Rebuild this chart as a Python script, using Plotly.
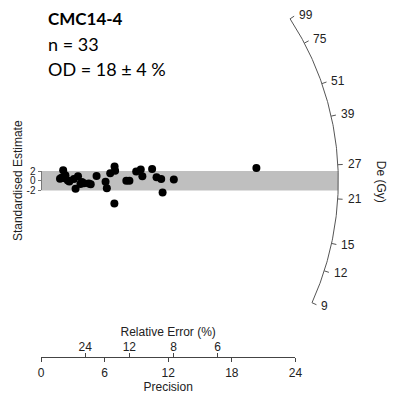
import numpy as np
import plotly.graph_objects as go

# ---- data ----
precision = [1.93, 2.09, 2.25, 2.53, 2.30, 1.79, 2.67, 3.10, 3.26, 3.49, 3.72,
             3.86, 4.05, 4.51, 4.69, 5.24, 6.09, 6.21, 6.53, 6.94, 6.99, 6.92,
             8.05, 8.34, 8.98, 9.41, 9.56, 10.48, 10.90, 11.34, 11.47, 12.53, 20.32]
std_est = [0.64, 2.14, 0.54, 0.04, 1.14, 0.44, -0.16, 0.34, -1.62, 0.94, -0.66,
           -0.26, -0.52, -0.56, -0.72, 1.00, -0.20, -1.52, 1.54, 2.94, 2.04, -4.66,
           0.00, 0.00, 1.90, 2.30, 0.94, 2.40, 0.70, 0.38, -2.40, 0.28, 2.60]
de_ticks = [9, 12, 15, 21, 27, 39, 51, 75, 99]
central_de = 24.0
prec_ticks = [0, 6, 12, 18, 24]
rel_err_ticks = [24, 12, 8, 6]
std_ticks = [-2, 0, 2]
title_lines = ["<b>CMC14-4</b>", "n = 33", "OD = 18 ± 4 %"]

# ---- geometry ----
W, H = 395, 403
px0, py0 = 39.0, 180.7          # pixel of origin (precision 0, std 0)
ax_px = 10.875                  # px per precision unit
ay_px = 5.0                     # px per standardised unit
R = 305.0                       # arc radius in px

xr = [-px0 / ax_px, (W - px0) / ax_px]
yr = [(py0 - H) / ay_px, py0 / ay_px]

def ang(z):
    return np.arctan((ay_px / ax_px) * (np.log(z) - np.log(central_de)))

def pol(r, th):
    return r * np.cos(th) / ax_px, r * np.sin(th) / ay_px

fig = go.Figure()

# band +-2
th_b = np.arcsin(2 * ay_px / R)
tb = np.linspace(-th_b, th_b, 10)
bx, by = pol(R, tb)
band_x = [0] + list(bx) + [0]
band_y = [-2] + list(by) + [2]
fig.add_trace(go.Scatter(x=band_x, y=band_y, fill="toself", fillcolor="#bfbfbf",
                         line=dict(width=0), mode="lines", hoverinfo="skip"))

# arc
ta = np.linspace(ang(min(de_ticks)), ang(max(de_ticks)), 200)
axx, ayy = pol(R, ta)
fig.add_trace(go.Scatter(x=axx, y=ayy, mode="lines", line=dict(color="#555555", width=1),
                         hoverinfo="skip"))
# arc ticks
tx, ty = [], []
for z in de_ticks:
    a = ang(z)
    x1, y1 = pol(R, a)
    x2, y2 = pol(R + 5, a)
    tx += [x1, x2, None]
    ty += [y1, y2, None]
fig.add_trace(go.Scatter(x=tx, y=ty, mode="lines", line=dict(color="#555555", width=1),
                         hoverinfo="skip"))

# points
fig.add_trace(go.Scatter(x=precision, y=std_est, mode="markers",
                         marker=dict(color="black", size=8), hoverinfo="skip"))

# dummy traces for the visible axes
fig.add_trace(go.Scatter(x=[None], y=[None], xaxis="x2", yaxis="y2", showlegend=False))
fig.add_trace(go.Scatter(x=[None], y=[None], xaxis="x3", yaxis="y2", showlegend=False))

ann = []
for z in de_ticks:
    lx, ly = pol(R + 8, ang(z))
    ann.append(dict(x=lx, y=ly, xref="x", yref="y", text=str(z), showarrow=False,
                    xanchor="left", yanchor="middle",
                    font=dict(family="Liberation Sans, Arial", size=12, color="#222")))
ann.append(dict(x=388 / W, y=1 - 182 / H, xref="paper", yref="paper", text="De (Gy)",
                textangle=90, showarrow=False, xanchor="center", yanchor="middle",
                font=dict(family="Liberation Sans, Arial", size=12, color="#222")))
for i, (t, yc) in enumerate(zip(title_lines, [14, 40, 66])):
    ann.append(dict(x=44 / W, y=1 - yc / H, xref="paper", yref="paper", text=t,
                    showarrow=False, xanchor="left", yanchor="middle",
                    font=dict(family="Lato", size=18 if i else 17, color="black")))

font_ax = dict(family="Liberation Sans, Arial", size=12, color="#222")
dom_x = [px0 / W, 300 / W]
pos_x = 1 - 362.0 / H

fig.update_layout(
    width=W, height=H, margin=dict(l=0, r=0, t=0, b=0),
    paper_bgcolor="white", plot_bgcolor="rgba(0,0,0,0)", showlegend=False,
    xaxis=dict(range=xr, visible=False, domain=[0, 1]),
    yaxis=dict(range=yr, visible=False, domain=[0, 1]),
    xaxis2=dict(domain=dom_x, range=[0, 24], anchor="free", position=pos_x,
                showline=True, linecolor="#444", linewidth=1, ticks="outside",
                ticklen=4, tickcolor="#444", tickvals=prec_ticks,
                ticktext=[str(v) for v in prec_ticks], showgrid=False, zeroline=False,
                tickfont=font_ax, title=dict(text="Precision", font=font_ax, standoff=3)),
    xaxis3=dict(domain=dom_x, range=[0, 24], anchor="free", position=pos_x, side="top",
                showline=False, ticks="outside", ticklen=4, tickcolor="#444",
                tickvals=[100 / v for v in rel_err_ticks],
                ticktext=[str(v) for v in rel_err_ticks], showgrid=False, zeroline=False,
                tickfont=font_ax, ticklabelstandoff=-3,
                title=dict(text="Relative Error (%)", font=font_ax, standoff=0)),
    yaxis2=dict(domain=[1 - 190.7 / H, 1 - 170.7 / H], range=[-2, 2], anchor="free",
                position=38.5 / W, showline=True, linecolor="#777", linewidth=1,
                ticks="outside", ticklen=3, tickcolor="#777", tickvals=std_ticks,
                ticktext=[str(v) for v in std_ticks], showgrid=False, zeroline=False,
                tickfont=dict(family="Liberation Sans, Arial", size=10, color="#222"),
                title=dict(text="Standardised Estimate", font=font_ax, standoff=0)),
    annotations=ann,
)

fig.write_html("out.html")
